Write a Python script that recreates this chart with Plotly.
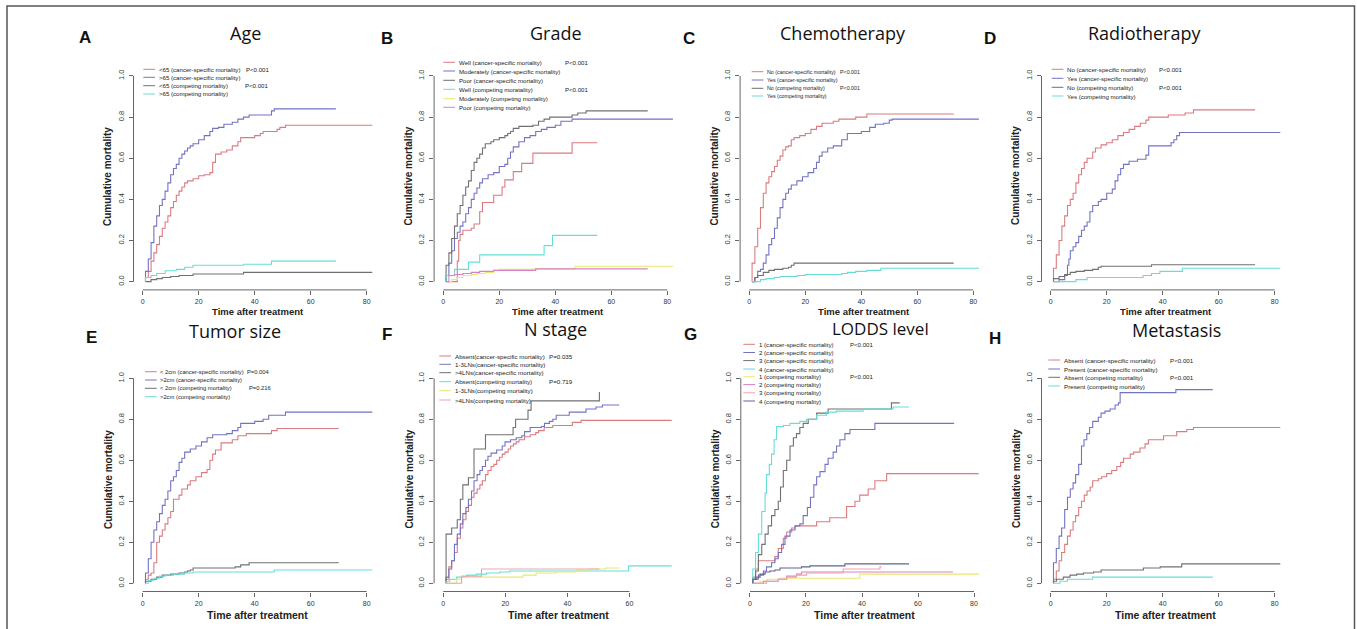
import plotly.graph_objects as go

FIG_W, FIG_H = 1357, 629

RED = "#DB7B80"
BLUE = "#7373C6"
GRAY = "#707070"
CYAN = "#66DDD8"
YELLOW = "#E8E872"
MAGENTA = "#D681C8"
PINK = "#EFA3AC"
SLATE = "#62628F"

# ---------------- A: Age ----------------
age_lt65_cs_t = [1, 1, 2, 3, 4, 5, 6, 7, 8, 9, 10, 11, 12, 13, 14, 15, 16, 18, 20, 22, 24, 25, 26, 28, 30, 32, 34, 35, 40, 42, 43, 48, 49, 51, 82]
age_lt65_cs_v = [0, 0.02, 0.05, 0.10, 0.14, 0.18, 0.22, 0.26, 0.29, 0.32, 0.36, 0.39, 0.42, 0.44, 0.46, 0.48, 0.49, 0.50, 0.515, 0.52, 0.53, 0.58, 0.62, 0.63, 0.64, 0.66, 0.68, 0.70, 0.71, 0.72, 0.73, 0.74, 0.75, 0.76, 0.76]
age_gt65_cs_t = [1, 1, 2, 3, 4, 5, 6, 7, 8, 9, 10, 11, 12, 13, 14, 15, 16, 17, 18, 20, 22, 24, 25, 27, 29, 32, 34, 36, 38, 46, 47, 69]
age_gt65_cs_v = [0, 0.05, 0.11, 0.19, 0.27, 0.32, 0.37, 0.40, 0.44, 0.48, 0.52, 0.55, 0.57, 0.60, 0.62, 0.635, 0.65, 0.66, 0.67, 0.69, 0.71, 0.73, 0.745, 0.75, 0.765, 0.775, 0.79, 0.80, 0.81, 0.83, 0.84, 0.84]
age_lt65_cm_t = [1, 3, 5, 7, 10, 13, 18, 36, 82]
age_lt65_cm_v = [0, 0.01, 0.015, 0.02, 0.025, 0.03, 0.037, 0.045, 0.045]
age_gt65_cm_t = [1, 1, 3, 5, 8, 12, 15, 18, 36, 46, 69]
age_gt65_cm_v = [0, 0.02, 0.03, 0.04, 0.053, 0.06, 0.07, 0.08, 0.085, 0.10, 0.10]

# ---------------- B: Grade ----------------
grade_well_cs_t = [1, 5, 5.5, 6, 7, 10, 11, 13, 14, 18, 21, 22, 25, 28, 32, 46, 55]
grade_well_cs_v = [0, 0.10, 0.20, 0.23, 0.25, 0.26, 0.28, 0.34, 0.385, 0.42, 0.46, 0.495, 0.535, 0.575, 0.625, 0.675, 0.675]
grade_mod_cs_t = [1, 1, 2, 3, 4, 5, 6, 7, 8, 9, 10, 11, 12, 13, 14, 16, 18, 20, 22, 23, 24, 25, 27, 29, 31, 33, 35, 37, 40, 42, 46, 82]
grade_mod_cs_v = [0, 0.03, 0.09, 0.15, 0.21, 0.24, 0.27, 0.29, 0.33, 0.36, 0.40, 0.43, 0.455, 0.48, 0.50, 0.52, 0.53, 0.56, 0.57, 0.60, 0.63, 0.655, 0.68, 0.70, 0.71, 0.73, 0.74, 0.75, 0.76, 0.78, 0.79, 0.79]
grade_poor_cs_t = [1, 1, 2, 3, 4, 5, 6, 7, 8, 9, 10, 11, 12, 13, 14, 15, 17, 18, 20, 22, 23, 24, 25, 27, 32, 34, 36, 38, 46, 48, 51, 73]
grade_poor_cs_v = [0, 0.08, 0.14, 0.21, 0.27, 0.33, 0.37, 0.42, 0.46, 0.49, 0.54, 0.58, 0.60, 0.62, 0.65, 0.67, 0.68, 0.69, 0.70, 0.71, 0.72, 0.73, 0.745, 0.755, 0.76, 0.78, 0.79, 0.80, 0.81, 0.82, 0.83, 0.83]
grade_well_cm_t = [1, 1, 4, 9, 13, 36, 39, 55]
grade_well_cm_v = [0, 0.03, 0.06, 0.095, 0.13, 0.175, 0.225, 0.225]
grade_mod_cm_t = [1, 3, 5, 7, 10, 12, 15, 18, 20, 32, 47, 82]
grade_mod_cm_v = [0, 0.01, 0.02, 0.03, 0.035, 0.04, 0.045, 0.055, 0.06, 0.062, 0.075, 0.075]
grade_poor_cm_t = [1, 2, 4, 7, 10, 13, 18, 33, 73]
grade_poor_cm_v = [0, 0.03, 0.035, 0.04, 0.045, 0.05, 0.055, 0.062, 0.062]

# ---------------- C: Chemotherapy ----------------
chemo_no_cs_t = [1, 1, 2, 3, 4, 5, 6, 7, 8, 9, 10, 11, 12, 13, 14, 15, 16, 18, 20, 22, 24, 26, 30, 32, 38, 42, 73]
chemo_no_cs_v = [0, 0.09, 0.17, 0.26, 0.36, 0.43, 0.48, 0.51, 0.535, 0.56, 0.59, 0.61, 0.64, 0.655, 0.66, 0.69, 0.70, 0.71, 0.72, 0.74, 0.755, 0.77, 0.78, 0.79, 0.80, 0.815, 0.815]
chemo_yes_cs_t = [1, 2, 3, 4, 5, 6, 7, 8, 9, 10, 11, 12, 13, 14, 15, 17, 19, 21, 23, 24, 25, 26, 28, 30, 33, 35, 40, 43, 45, 48, 50, 51, 82]
chemo_yes_cs_v = [0, 0.02, 0.05, 0.06, 0.09, 0.13, 0.18, 0.21, 0.26, 0.31, 0.36, 0.40, 0.43, 0.45, 0.47, 0.49, 0.51, 0.53, 0.55, 0.58, 0.61, 0.63, 0.65, 0.66, 0.69, 0.72, 0.73, 0.75, 0.765, 0.77, 0.785, 0.79, 0.79]
chemo_no_cm_t = [1, 2, 3, 5, 7, 9, 12, 14, 15, 16, 73]
chemo_no_cm_v = [0, 0.02, 0.03, 0.045, 0.055, 0.06, 0.065, 0.07, 0.08, 0.09, 0.09]
chemo_yes_cm_t = [1, 4, 6, 9, 11, 17, 20, 33, 35, 38, 42, 47, 82]
chemo_yes_cm_v = [0, 0.01, 0.015, 0.02, 0.025, 0.03, 0.035, 0.04, 0.045, 0.05, 0.055, 0.065, 0.065]

# ---------------- D: Radiotherapy ----------------
radio_no_cs_t = [1, 1, 2, 3, 4, 5, 6, 7, 8, 9, 10, 11, 12, 13, 15, 16, 18, 20, 22, 24, 26, 28, 30, 32, 34, 35, 42, 48, 51, 73]
radio_no_cs_v = [0, 0.065, 0.13, 0.20, 0.27, 0.32, 0.37, 0.40, 0.43, 0.48, 0.52, 0.55, 0.58, 0.60, 0.63, 0.65, 0.665, 0.675, 0.69, 0.71, 0.725, 0.74, 0.755, 0.77, 0.785, 0.80, 0.81, 0.82, 0.835, 0.835]
radio_yes_cs_t = [1, 3, 5, 6, 6.5, 7, 8, 9, 10, 11, 12, 13, 14, 15, 17, 18, 20, 22, 23, 24, 25, 26, 28, 31, 34, 35, 43, 44, 45, 46, 82]
radio_yes_cs_v = [0, 0.01, 0.03, 0.08, 0.11, 0.15, 0.17, 0.19, 0.22, 0.25, 0.27, 0.29, 0.34, 0.37, 0.39, 0.40, 0.43, 0.45, 0.49, 0.52, 0.55, 0.57, 0.585, 0.595, 0.615, 0.66, 0.675, 0.69, 0.71, 0.725, 0.725]
radio_no_cm_t = [1, 1, 3, 5, 7, 9, 12, 15, 17, 18, 36, 73]
radio_no_cm_v = [0, 0.015, 0.025, 0.035, 0.045, 0.05, 0.055, 0.06, 0.07, 0.075, 0.082, 0.082]
radio_yes_cm_t = [1, 9, 13, 33, 36, 39, 47, 82]
radio_yes_cm_v = [0, 0.01, 0.02, 0.03, 0.04, 0.05, 0.065, 0.065]

# ---------------- E: Tumor size ----------------
size_lt2_cs_t = [1, 1, 2, 3, 4, 5, 6, 7, 8, 9, 10, 11, 13, 14, 16, 17, 19, 21, 23, 24, 25, 26, 28, 32, 34, 37, 46, 48, 70]
size_lt2_cs_v = [0, 0.02, 0.04, 0.05, 0.10, 0.20, 0.23, 0.26, 0.29, 0.32, 0.35, 0.41, 0.43, 0.46, 0.48, 0.50, 0.52, 0.54, 0.555, 0.60, 0.63, 0.65, 0.685, 0.70, 0.72, 0.73, 0.745, 0.755, 0.755]
size_gt2_cs_t = [1, 1, 2, 3, 4, 5, 6, 7, 8, 9, 10, 11, 12, 13, 14, 15, 17, 19, 21, 23, 25, 30, 32, 34, 35, 40, 43, 45, 51, 82]
size_gt2_cs_v = [0, 0.05, 0.12, 0.20, 0.26, 0.30, 0.34, 0.38, 0.41, 0.45, 0.50, 0.52, 0.55, 0.59, 0.61, 0.64, 0.655, 0.67, 0.69, 0.71, 0.725, 0.73, 0.745, 0.76, 0.78, 0.79, 0.80, 0.82, 0.835, 0.835]
size_lt2_cm_t = [1, 1, 3, 5, 7, 10, 13, 15, 16, 17, 18, 33, 35, 38, 70]
size_lt2_cm_v = [0, 0.01, 0.02, 0.03, 0.04, 0.045, 0.05, 0.055, 0.06, 0.065, 0.075, 0.08, 0.09, 0.10, 0.10]
size_gt2_cm_t = [1, 2, 4, 6, 8, 11, 15, 18, 47, 82]
size_gt2_cm_v = [0, 0.015, 0.025, 0.035, 0.04, 0.045, 0.05, 0.055, 0.065, 0.065]

# ---------------- F: N stage ----------------
n_abs_cs_t = [0.9, 0.9, 1.8, 2.7, 3.6, 4.5, 5.5, 6.3, 7.3, 8.1, 9.1, 9.9, 10.9, 11.8, 12.6, 13.6, 14.4, 15.4, 16.3, 17.2, 18.1, 19.0, 19.9, 20.9, 21.7, 22.6, 23.5, 24.4, 26.2, 28.0, 29.8, 30.7, 32.5, 35.3, 41.6, 44.4, 73.6]
n_abs_cs_v = [0, 0.02, 0.08, 0.11, 0.15, 0.22, 0.27, 0.31, 0.35, 0.38, 0.42, 0.44, 0.46, 0.48, 0.50, 0.53, 0.55, 0.57, 0.58, 0.60, 0.615, 0.63, 0.64, 0.655, 0.67, 0.68, 0.69, 0.70, 0.715, 0.725, 0.735, 0.745, 0.76, 0.77, 0.785, 0.795, 0.795]
n_13_cs_t = [0.9, 0.9, 1.8, 2.7, 3.6, 4.5, 5.5, 6.3, 7.3, 8.1, 9.1, 9.9, 10.9, 11.8, 12.6, 13.6, 14.4, 15.4, 17.2, 19.0, 19.9, 21.7, 23.5, 25.3, 26.2, 28.0, 31.6, 32.6, 34.2, 35.3, 36.4, 40.6, 46.0, 49.2, 51.3, 56.7]
n_13_cs_v = [0, 0.03, 0.07, 0.11, 0.19, 0.24, 0.29, 0.34, 0.37, 0.41, 0.45, 0.50, 0.53, 0.55, 0.57, 0.60, 0.62, 0.635, 0.65, 0.67, 0.69, 0.70, 0.71, 0.72, 0.74, 0.76, 0.765, 0.78, 0.79, 0.80, 0.82, 0.835, 0.85, 0.86, 0.87, 0.87]
n_4_cs_t = [0.9, 0.9, 2.7, 4.5, 5.5, 6.3, 8.1, 9.9, 13.6, 22.5, 23.3, 27.3, 28.3, 50.3, 50.5]
n_4_cs_v = [0, 0.24, 0.27, 0.31, 0.41, 0.48, 0.515, 0.655, 0.725, 0.76, 0.80, 0.845, 0.89, 0.93, 0.93]
n_abs_cm_t = [0.9, 0.9, 2.1, 4.3, 7.5, 10.7, 13.9, 18.2, 21.4, 59.7, 73.6]
n_abs_cm_v = [0, 0.01, 0.02, 0.03, 0.04, 0.045, 0.05, 0.055, 0.06, 0.085, 0.085]
n_13_cm_t = [0.9, 4.3, 5.9, 25.7, 29.9, 36.4, 42.8, 47.1, 52.4, 56.7]
n_13_cm_v = [0, 0.02, 0.03, 0.04, 0.05, 0.055, 0.065, 0.07, 0.075, 0.075]
n_4_cm_t = [0.9, 5.9, 12.3, 50.3]
n_4_cm_v = [0, 0.035, 0.07, 0.07]

# ---------------- G: LODDS level ----------------
lodds1_cs_t = [1, 1, 2, 3, 8.9, 10.1, 11.9, 13.1, 14.9, 16.1, 23.8, 28.5, 34.5, 37.5, 39.2, 42.2, 44.6, 48.8, 81.7]
lodds1_cs_v = [0, 0.03, 0.07, 0.11, 0.13, 0.17, 0.22, 0.25, 0.27, 0.28, 0.30, 0.32, 0.375, 0.40, 0.43, 0.46, 0.50, 0.535, 0.535]
lodds2_cs_t = [1, 1, 3, 4.8, 5.9, 7.7, 8.9, 10.1, 11.3, 12.5, 14.3, 16.1, 17.8, 19.0, 20.5, 21.6, 22.8, 23.8, 25.0, 26.8, 27.9, 29.7, 30.9, 32.1, 33.9, 35.7, 44.6, 72.9]
lodds2_cs_v = [0, 0.02, 0.04, 0.06, 0.08, 0.10, 0.12, 0.15, 0.19, 0.23, 0.26, 0.28, 0.29, 0.33, 0.37, 0.42, 0.48, 0.52, 0.545, 0.58, 0.61, 0.64, 0.67, 0.70, 0.73, 0.75, 0.78, 0.78]
lodds3_cs_t = [1, 1, 2, 3, 4.2, 5.4, 6.5, 7.7, 8.9, 10.1, 10.9, 11.9, 13.1, 14.3, 15.5, 16.6, 17.8, 19.0, 20.8, 23.8, 27.9, 50.5, 53.5]
lodds3_cs_v = [0, 0.02, 0.06, 0.14, 0.19, 0.24, 0.28, 0.33, 0.36, 0.40, 0.47, 0.55, 0.60, 0.67, 0.71, 0.73, 0.76, 0.78, 0.80, 0.83, 0.85, 0.88, 0.88]
lodds4_cs_t = [1, 1, 2, 3, 4.2, 5.4, 5.9, 6.9, 7.7, 8.6, 9.5, 11.9, 14.3, 17.8, 20.2, 23.8, 27.3, 30.9, 40.4, 51.1, 56.8]
lodds4_cs_v = [0, 0.07, 0.15, 0.24, 0.35, 0.44, 0.53, 0.58, 0.63, 0.70, 0.765, 0.77, 0.78, 0.79, 0.80, 0.82, 0.835, 0.84, 0.85, 0.86, 0.86]
lodds1_cm_t = [1, 3.6, 6.0, 10.7, 39.2, 81.7]
lodds1_cm_v = [0, 0.01, 0.02, 0.025, 0.045, 0.045]
lodds2_cm_t = [1, 4.8, 10.1, 13.1, 16.6, 18.4, 72.5]
lodds2_cm_v = [0, 0.01, 0.02, 0.035, 0.045, 0.055, 0.055]
lodds3_cm_t = [1, 5.9, 10.1, 13.1, 16.6, 20.2, 33.3, 46.4, 47.0]
lodds3_cm_v = [0, 0.01, 0.02, 0.03, 0.04, 0.05, 0.07, 0.08, 0.08]
lodds4_cm_t = [1, 1, 2.4, 3.6, 5.4, 7.1, 8.9, 10.7, 18.4, 21.4, 33.9, 56.8]
lodds4_cm_v = [0, 0.02, 0.03, 0.045, 0.055, 0.06, 0.065, 0.075, 0.08, 0.085, 0.095, 0.095]

# ---------------- H: Metastasis ----------------
meta_abs_cs_t = [1, 1, 2, 3, 3.9, 5, 6, 7, 8, 8.9, 10, 11, 12, 13, 14.1, 15, 17, 18.2, 20, 21.8, 23.6, 25, 26, 28.4, 29.6, 31.9, 33.7, 34.9, 40.3, 45, 48.6, 51, 82]
meta_abs_cs_v = [0, 0.02, 0.06, 0.11, 0.15, 0.19, 0.23, 0.26, 0.30, 0.33, 0.37, 0.40, 0.43, 0.45, 0.47, 0.50, 0.51, 0.52, 0.535, 0.55, 0.57, 0.59, 0.61, 0.63, 0.64, 0.66, 0.68, 0.70, 0.72, 0.74, 0.75, 0.76, 0.76]
meta_pre_cs_t = [1, 1, 2, 3, 3.9, 5, 6, 7, 8, 8.9, 10, 11, 11.9, 12.9, 13.9, 15, 17, 18, 19.4, 21.2, 23, 24.2, 24.8, 44.7, 57.9]
meta_pre_cs_v = [0, 0.10, 0.17, 0.23, 0.27, 0.36, 0.42, 0.46, 0.49, 0.53, 0.58, 0.67, 0.70, 0.73, 0.76, 0.79, 0.81, 0.83, 0.84, 0.85, 0.87, 0.88, 0.93, 0.945, 0.945]
meta_abs_cm_t = [1, 1, 2.1, 4.5, 6.9, 9.3, 11.7, 15.3, 18, 33.1, 39.1, 46.8, 82]
meta_abs_cm_v = [0, 0.01, 0.02, 0.03, 0.04, 0.045, 0.05, 0.055, 0.065, 0.075, 0.08, 0.095, 0.095]
meta_pre_cm_t = [1, 3.3, 6, 15, 57.9]
meta_pre_cm_v = [0, 0.01, 0.02, 0.03, 0.03]

CS = "(cancer-specific mortality)"
CM = "(competing mortality)"

panels = [
    dict(letter="A", title="Age", left=133.5, row=0, xmax=82, xticks=[0, 20, 40, 60, 80],
         curves=[(age_lt65_cs_t, age_lt65_cs_v, RED), (age_gt65_cs_t, age_gt65_cs_v, BLUE),
                 (age_lt65_cm_t, age_lt65_cm_v, GRAY), (age_gt65_cm_t, age_gt65_cm_v, CYAN)],
         legend=[("&lt;65 " + CS, RED), ("&gt;65 " + CS, BLUE), ("&lt;65 " + CM, GRAY), ("&gt;65 " + CM, CYAN)],
         leg_x=143.3, leg_rows=[69.3, 77.3, 85.7, 94.0], leg_size=6.1,
         pvals=[("P&lt;0.001", 244.3, 0), ("P&lt;0.001", 243.3, 2)],
         letter_xy=(85, 37), title_xy=(245.7, 33), title_size=18),
    dict(letter="B", title="Grade", left=434.1, row=0, xmax=82, xticks=[0, 20, 40, 60, 80],
         curves=[(grade_well_cs_t, grade_well_cs_v, RED), (grade_mod_cs_t, grade_mod_cs_v, BLUE),
                 (grade_poor_cs_t, grade_poor_cs_v, GRAY), (grade_well_cm_t, grade_well_cm_v, CYAN),
                 (grade_mod_cm_t, grade_mod_cm_v, YELLOW), (grade_poor_cm_t, grade_poor_cm_v, MAGENTA)],
         legend=[("Well " + CS, RED), ("Moderately " + CS, BLUE), ("Poor " + CS, GRAY),
                 ("Well (competing moratality)", CYAN), ("Moderately " + CM, YELLOW), ("Poor " + CM, MAGENTA)],
         leg_x=443.3, leg_rows=[62.3, 71.0, 80.3, 89.3, 98.7, 107.3], leg_size=6.1,
         pvals=[("P&lt;0.001", 562.7, 0), ("P&lt;0.001", 562.7, 3)],
         letter_xy=(387, 38), title_xy=(555.8, 33), title_size=18),
    dict(letter="C", title="Chemotherapy", left=740.1, row=0, xmax=82, xticks=[0, 20, 40, 60, 80],
         curves=[(chemo_no_cs_t, chemo_no_cs_v, RED), (chemo_yes_cs_t, chemo_yes_cs_v, BLUE),
                 (chemo_no_cm_t, chemo_no_cm_v, GRAY), (chemo_yes_cm_t, chemo_yes_cm_v, CYAN)],
         legend=[("No " + CS, RED), ("Yes " + CS, BLUE), ("No " + CM, GRAY), ("Yes " + CM, CYAN)],
         leg_x=751.7, leg_rows=[71.7, 80.0, 88.3, 96.0], leg_size=5.3,
         pvals=[("P&lt;0.001", 838.3, 0), ("P&lt;0.001", 838.3, 2)],
         letter_xy=(689, 38), title_xy=(843.3, 33), title_size=18),
    dict(letter="D", title="Radiotherapy", left=1041.5, row=0, xmax=82, xticks=[0, 20, 40, 60, 80],
         curves=[(radio_no_cs_t, radio_no_cs_v, RED), (radio_yes_cs_t, radio_yes_cs_v, BLUE),
                 (radio_no_cm_t, radio_no_cm_v, GRAY), (radio_yes_cm_t, radio_yes_cm_v, CYAN)],
         legend=[("No " + CS, RED), ("Yes " + CS, BLUE), ("No " + CM, GRAY), ("Yes " + CM, CYAN)],
         leg_x=1051.7, leg_rows=[69.3, 78.3, 87.3, 96.0], leg_size=6.1,
         pvals=[("P&lt;0.001", 1156.7, 0), ("P&lt;0.001", 1156.7, 2)],
         letter_xy=(990, 38), title_xy=(1144, 33), title_size=18),
    dict(letter="E", title="Tumor size", left=133.5, row=1, xmax=82, xticks=[0, 20, 40, 60, 80],
         curves=[(size_lt2_cs_t, size_lt2_cs_v, RED), (size_gt2_cs_t, size_gt2_cs_v, BLUE),
                 (size_lt2_cm_t, size_lt2_cm_v, GRAY), (size_gt2_cm_t, size_gt2_cm_v, CYAN)],
         legend=[("&lt; 2cm " + CS, RED), ("&gt;2cm " + CS, BLUE), ("&lt; 2cm " + CM, GRAY), ("&gt;2cm " + CM, CYAN)],
         leg_x=145.0, leg_rows=[371.7, 380.0, 388.3, 396.7], leg_size=5.8,
         pvals=[("P=0.004", 245.0, 0), ("P=0.216", 246.7, 2)],
         letter_xy=(91, 337), title_xy=(235, 331), title_size=18),
    dict(letter="F", title="N stage", left=434.1, row=1, xmax=74, xticks=[0, 20, 40, 60],
         curves=[(n_abs_cs_t, n_abs_cs_v, RED), (n_13_cs_t, n_13_cs_v, BLUE), (n_4_cs_t, n_4_cs_v, GRAY),
                 (n_abs_cm_t, n_abs_cm_v, CYAN), (n_13_cm_t, n_13_cm_v, YELLOW), (n_4_cm_t, n_4_cm_v, PINK)],
         legend=[("Absent(cancer-specific mortality)", RED), ("1-3LNs(cancer-specific mortality)", BLUE),
                 ("&gt;4LNs(cancer-specific mortality)", GRAY), ("Absent(competing mortality)", CYAN),
                 ("1-3LNs(competing mortality)", YELLOW), ("&gt;4LNs(competing mortality)", PINK)],
         leg_x=439.3, leg_rows=[356.0, 364.3, 372.7, 381.7, 390.7, 400.0], leg_size=6.2,
         pvals=[("P=0.035", 546.7, 0), ("P=0.719", 546.7, 3)],
         letter_xy=(387, 334), title_xy=(555, 329), title_size=18),
    dict(letter="G", title="LODDS level", left=740.8, row=1, xmax=82, xticks=[0, 20, 40, 60, 80],
         curves=[(lodds1_cs_t, lodds1_cs_v, RED), (lodds2_cs_t, lodds2_cs_v, BLUE),
                 (lodds3_cs_t, lodds3_cs_v, GRAY), (lodds4_cs_t, lodds4_cs_v, CYAN),
                 (lodds1_cm_t, lodds1_cm_v, YELLOW), (lodds2_cm_t, lodds2_cm_v, MAGENTA),
                 (lodds3_cm_t, lodds3_cm_v, PINK), (lodds4_cm_t, lodds4_cm_v, SLATE)],
         legend=[("1 " + CS, RED), ("2 " + CS, BLUE), ("3 " + CS, GRAY), ("4 " + CS, CYAN),
                 ("1 " + CM, YELLOW), ("2 " + CM, MAGENTA), ("3 " + CM, PINK), ("4 " + CM, SLATE)],
         leg_x=743.3, leg_rows=[344.3, 352.5, 360.6, 369.0, 376.8, 384.6, 392.8, 401.0], leg_size=6.1,
         pvals=[("P&lt;0.001", 848.3, 0), ("P&lt;0.001", 848.3, 4)],
         letter_xy=(690, 334), title_xy=(880.7, 328.8), title_size=17),
    dict(letter="H", title="Metastasis", left=1041.5, row=1, xmax=82, xticks=[0, 20, 40, 60, 80],
         curves=[(meta_abs_cs_t, meta_abs_cs_v, RED), (meta_pre_cs_t, meta_pre_cs_v, BLUE),
                 (meta_abs_cm_t, meta_abs_cm_v, GRAY), (meta_pre_cm_t, meta_pre_cm_v, CYAN)],
         legend=[("Absent " + CS, RED), ("Present " + CS, BLUE), ("Absent " + CM, GRAY), ("Present " + CM, CYAN)],
         leg_x=1048.3, leg_rows=[360.0, 369.0, 377.3, 386.0], leg_size=6.2,
         pvals=[("P&lt;0.001", 1168.3, 0), ("P&lt;0.001", 1168.3, 2)],
         letter_xy=(995, 338), title_xy=(1176.7, 330), title_size=18),
]

# plot-region geometry (pixels) for the two rows
ROWS = [dict(top=67.7, bottom=289.9, xlab_y=311, xlab_size=9.5, ylab_y=176),
        dict(top=370.1, bottom=591.5, xlab_y=614.5, xlab_size=10.5, ylab_y=479)]
REGION_W = 248.0


def px(x):
    return x / FIG_W


def py(y):
    return 1 - y / FIG_H


fig = go.Figure()
shapes = []
annotations = []
layout = {}

for i, p in enumerate(panels, start=1):
    s = "" if i == 1 else str(i)
    row = ROWS[p["row"]]
    left, right = p["left"], p["left"] + REGION_W
    xmax = p["xmax"]

    for t, v, col in p["curves"]:
        assert len(t) == len(v)
        fig.add_trace(go.Scatter(x=t, y=v, mode="lines", line=dict(color=col, width=1.1, shape="hv"),
                                 xaxis="x" + s, yaxis="y" + s, hoverinfo="skip", showlegend=False))

    layout["xaxis" + s] = dict(
        domain=[px(left), px(right)], range=[-0.04 * xmax, 1.04 * xmax], anchor="y" + s,
        showgrid=False, zeroline=False, showline=False, ticks="outside", ticklen=4, tickwidth=1,
        tickcolor="#666", tickvals=p["xticks"], tickfont=dict(family="Liberation Sans, Arial", size=7, color="#333"),
        ticklabelstandoff=1, fixedrange=True)
    layout["yaxis" + s] = dict(
        domain=[py(row["bottom"]), py(row["top"])], range=[-0.04, 1.04], anchor="x" + s,
        showgrid=False, zeroline=False, showline=False, ticks="outside", ticklen=4, tickwidth=1,
        tickcolor="#666", tickvals=[0, 0.2, 0.4, 0.6, 0.8, 1.0],
        ticktext=["0.0", "0.2", "0.4", "0.6", "0.8", "1.0"], tickangle=-90,
        tickfont=dict(family="Liberation Sans, Arial", size=7.5, color="#333"),
        ticklabelstandoff=2, fixedrange=True)

    # R-style axis lines spanning the first to the last tick
    shapes.append(dict(type="line", xref="x" + s, yref="y" + s + " domain", x0=0, x1=p["xticks"][-1],
                       y0=0, y1=0, line=dict(color="#666", width=1)))
    shapes.append(dict(type="line", xref="x" + s + " domain", yref="y" + s, x0=0, x1=0,
                       y0=0, y1=1, line=dict(color="#666", width=1)))

    # legend: short line keys with labels
    lfont = dict(family="Liberation Sans, Arial", size=p["leg_size"], color="#222")
    for (label, col), yrow in zip(p["legend"], p["leg_rows"]):
        shapes.append(dict(type="line", xref="paper", yref="paper", x0=px(p["leg_x"]), x1=px(p["leg_x"] + 11.7),
                           y0=py(yrow), y1=py(yrow), line=dict(color=col, width=1)))
        annotations.append(dict(text=label, xref="paper", yref="paper", x=px(p["leg_x"] + 13.4), y=py(yrow),
                                xanchor="left", yanchor="middle", showarrow=False, font=lfont))
    for txt, xx, ridx in p["pvals"]:
        annotations.append(dict(text=txt, xref="paper", yref="paper", x=px(xx), y=py(p["leg_rows"][ridx]),
                                xanchor="left", yanchor="middle", showarrow=False, font=lfont))

    # panel title and letter
    tx, ty = p["title_xy"]
    annotations.append(dict(text=p["title"], xref="paper", yref="paper", x=px(tx), y=py(ty),
                            xanchor="center", yanchor="middle", showarrow=False,
                            font=dict(family="Open Sans, Arial", size=p["title_size"], color="#111")))
    lx, ly = p["letter_xy"]
    annotations.append(dict(text="<b>" + p["letter"] + "</b>", xref="paper", yref="paper", x=px(lx), y=py(ly),
                            xanchor="center", yanchor="middle", showarrow=False,
                            font=dict(family="Liberation Sans, Arial", size=17, color="#111")))

    # axis titles
    annotations.append(dict(text="<b>Cumulative mortality</b>", xref="paper", yref="paper", x=px(left - 25.5),
                            y=py(row["ylab_y"]), xanchor="center", yanchor="middle", textangle=-90, showarrow=False,
                            font=dict(family="Liberation Sans, Arial", size=10, color="#222")))
    annotations.append(dict(text="<b>Time after treatment</b>", xref="paper", yref="paper",
                            x=px((left + right) / 2), y=py(row["xlab_y"]), xanchor="center", yanchor="middle",
                            showarrow=False,
                            font=dict(family="Liberation Sans, Arial", size=row["xlab_size"], color="#222")))

# outer frame
shapes.append(dict(type="rect", xref="paper", yref="paper", x0=px(7), x1=px(1354.5), y0=py(650), y1=py(6),
                   line=dict(color="#555", width=1.5), fillcolor="rgba(0,0,0,0)"))

fig.update_layout(
    width=FIG_W, height=FIG_H, margin=dict(l=0, r=0, t=0, b=0),
    paper_bgcolor="white", plot_bgcolor="white", showlegend=False,
    shapes=shapes, annotations=annotations, **layout)

fig.write_html("out.html", config={"displayModeBar": False})
